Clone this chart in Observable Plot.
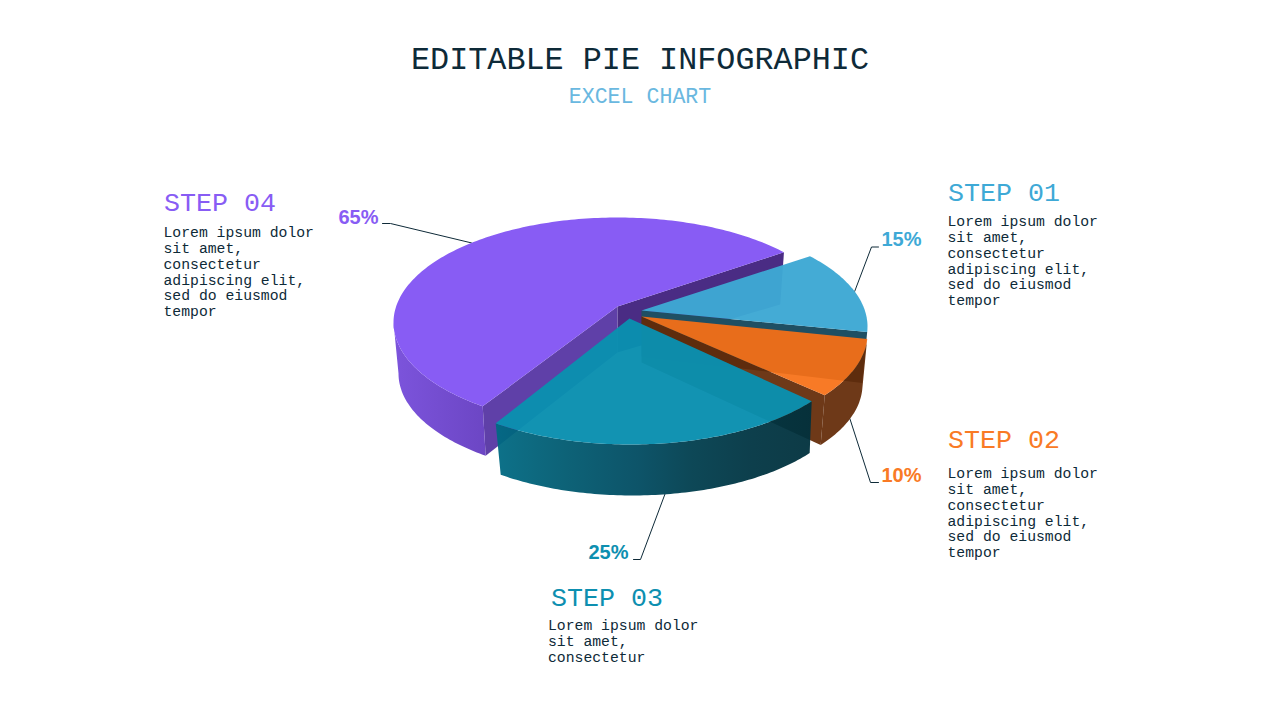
<!DOCTYPE html>
<html>
<head>
<meta charset="utf-8">
<script src="https://cdn.jsdelivr.net/npm/d3@7"></script>
<script src="https://cdn.jsdelivr.net/npm/@observablehq/plot@0.6"></script>
<style>
  html, body { margin: 0; padding: 0; background: #fff; overflow: hidden; }
  #head { position: relative; height: 120px; font-family: "Liberation Mono", monospace; text-align: center; }
  #head h1 { position: absolute; left: 0; right: 0; top: 41px; margin: 0; font-size: 31.8px; line-height: 40px; font-weight: 400; color: #0e2a38; }
  #head h2 { position: absolute; left: 0; right: 0; top: 83px; margin: 0; font-size: 21.6px; line-height: 28px; font-weight: 400; color: #6ab8e0; }
  svg { display: block; }
</style>
</head>
<body>
<div id="head"><h1>EDITABLE PIE INFOGRAPHIC</h1><h2>EXCEL CHART</h2></div>
<div id="chart"></div>
<script>
// ---- data ----
const steps = ["STEP 01", "STEP 02", "STEP 03", "STEP 04"];
const percentLabels = ["15%", "10%", "25%", "65%"];
const sliceSweepDeg = [45, 33, 91, 191];   // angular size actually drawn for each slice
const firstSliceStartDeg = 42;
const bodies = [
  "Lorem ipsum dolor\nsit amet,\nconsectetur\nadipiscing elit,\nsed do eiusmod\ntempor",
  "Lorem ipsum dolor\nsit amet,\nconsectetur\nadipiscing elit,\nsed do eiusmod\ntempor",
  "Lorem ipsum dolor\nsit amet,\nconsectetur",
  "Lorem ipsum dolor\nsit amet,\nconsectetur\nadipiscing elit,\nsed do eiusmod\ntempor"
];

// ---- style ----
const colors = ["#3ea9d6", "#f97a25", "#0d8fb0", "#885cf4"];
const topFill = ["#3ea8d4", "#f87015", "#0a8fb0", "#885cf4"];
const topAlpha = [0.97, 0.93, 0.97, 1];
const ink = "#0e2a38";
const mono = "Liberation Mono";

// ---- layout ----
const rx = 224, ry = 105, rxB = 219, ryB = 103, apexDepth = 46;
const centers = [[643, 326], [643, 333], [630, 339], [617, 322]];
const bottomCY = [377, 384, 392, 373];
const bottomCX = [643, 643, 632, 617];
const apexes = [[641, 310], [641, 316], [629, 318], [617, 306]];
const leaderAnchorDeg = [19.5, -19.5, -81.5, 130.7];
const leaderAnchorOnBottom = [false, true, true, false];
const leaderElbow = [[871, 246.5], [870, 482], [640, 559], [390, 223]];
const leaderEnd = [[878, 246.5], [878, 482], [633, 559], [382, 223]];
const pctPos = [[881, 239], [881, 475], [588, 552], [338, 217]];
const stepPos = [[947.5, 191.5], [947.5, 438.5], [550.5, 596.5], [163.5, 201.5]];
const bodyPos = [[947, 214.5], [947, 466.5], [547.5, 618.5], [163, 225.5]];

// ---- geometry derived from the slices ----
const rad = d => d * Math.PI / 180;
let cursor = firstSliceStartDeg;
const angles = sliceSweepDeg.map(s => { const a = [cursor, cursor - s]; cursor -= s; return a; });
const onTop = (i, t) => ({x: centers[i][0] + rx * Math.cos(rad(t)), y: centers[i][1] - ry * Math.sin(rad(t))});
const onBottom = (i, t) => ({x: bottomCX[i] + rxB * Math.cos(rad(t)), y: bottomCY[i] - ryB * Math.sin(rad(t))});
const arc = (f, i, a, b) => {
  const n = Math.max(2, Math.ceil(Math.abs(b - a)));
  return d3.range(n + 1).map(k => f(i, a + (b - a) * k / n));
};
const apexTop = i => ({x: apexes[i][0], y: apexes[i][1]});
const apexBot = i => ({x: apexes[i][0], y: apexes[i][1] + apexDepth});
const topPoly = i => [apexTop(i), ...arc(onTop, i, angles[i][0], angles[i][1])];
const wallPoly = (i, t) => [apexTop(i), onTop(i, t), onBottom(i, t), apexBot(i)];
const sidePoly = (i, a, b) => [...arc(onTop, i, a, b), ...arc(onBottom, i, a, b).reverse()];

const poly = (pts, fill, fillOpacity = 1) =>
  Plot.line(pts, {x: "x", y: "y", fill, fillOpacity, stroke: "none", curve: "linear"});

function gradientDefs() {
  const defs = d3.create("svg:defs");
  const add = (id, stops) => {
    const g = defs.append("linearGradient").attr("id", id).attr("x1", 0).attr("x2", 1).attr("y1", 0).attr("y2", 0);
    stops.forEach(([o, c]) => g.append("stop").attr("offset", o).attr("stop-color", c));
  };
  add("sidePurple", [[0, "#7c54dc"], [1, "#6c46c4"]]);
  add("sideTeal", [[0, "#006a83"], [0.22, "#005a70"], [0.45, "#004b61"], [0.62, "#003e4e"], [0.8, "#003543"], [1, "#00303c"]]);
  return defs.node();
}

const leaders = steps.map((_, i) => {
  const a = (leaderAnchorOnBottom[i] ? onBottom : onTop)(i, leaderAnchorDeg[i]);
  return [a, {x: leaderElbow[i][0], y: leaderElbow[i][1]}, {x: leaderEnd[i][0], y: leaderEnd[i][1]}];
});

const textRows = steps.map((s, i) => ({i, s, pct: percentLabels[i], body: bodies[i],
  px: pctPos[i][0], py: pctPos[i][1], sx: stepPos[i][0], sy: stepPos[i][1], bx: bodyPos[i][0], by: bodyPos[i][1]}));

const marks = [
  gradientDefs,
  // leader lines sit under the pie
  ...leaders.map(l => Plot.line(l, {x: "x", y: "y", stroke: ink, strokeWidth: 1, curve: "linear"})),

  // STEP 04 purple
  poly(wallPoly(3, angles[3][1]), "#4a2c84"),
  poly(wallPoly(3, angles[3][0]), "#5f40a8"),
  poly(sidePoly(3, -180, angles[3][0]), "url(#sidePurple)"),
  poly(topPoly(3), topFill[3]),

  // STEP 01 blue
  poly(wallPoly(0, angles[0][1]), "#1f4f63"),
  poly(topPoly(0), topFill[0], topAlpha[0]),

  // STEP 02 orange
  poly(wallPoly(1, angles[1][1]), "#632a06", 0.93),
  poly(sidePoly(1, angles[1][0], angles[1][1]), "#632a06", 0.93),
  poly(topPoly(1), topFill[1], topAlpha[1]),

  // STEP 03 teal
  poly(sidePoly(2, angles[2][0], angles[2][1]), "url(#sideTeal)", 0.95),
  poly(topPoly(2), topFill[2], topAlpha[2]),

  // texts
  Plot.text(textRows, {x: "px", y: "py", text: "pct", fill: d => colors[d.i], fontFamily: "Liberation Sans", fontWeight: 700, fontSize: 20, textAnchor: "start"}),
  Plot.text(textRows, {x: "sx", y: "sy", text: "s", fill: d => colors[d.i], fontFamily: mono, fontSize: 26.67, textAnchor: "start"}),
  Plot.text(textRows, {x: "bx", y: "by", text: "body", fill: ink, fontFamily: mono, fontSize: 14.75, lineHeight: 1.072, textAnchor: "start", lineAnchor: "top"})
];

const chart = Plot.plot({
  width: 1280, height: 600,
  margin: 0,
  x: {domain: [0, 1280], range: [0, 1280], axis: null},
  y: {domain: [120, 720], range: [0, 600], axis: null},
  color: {type: "identity"},
  marks
});
document.getElementById("chart").append(chart);
</script>
</body>
</html>
